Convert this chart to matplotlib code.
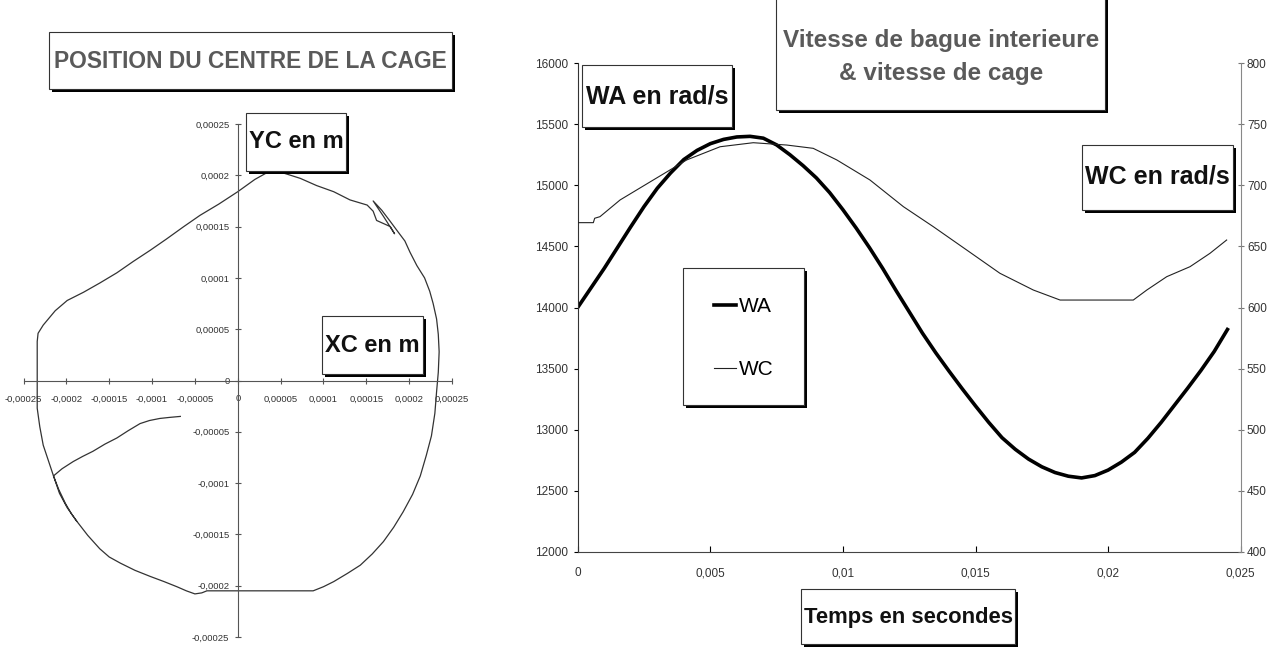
import numpy as np
import matplotlib
matplotlib.use('Agg')
import matplotlib.pyplot as plt
from matplotlib.patches import Rectangle
from matplotlib.ticker import FixedLocator, FuncFormatter

W, H = 1279, 648
NARROW = ['Liberation Sans Narrow', 'Liberation Sans', 'DejaVu Sans']
SANS = ['Liberation Sans', 'DejaVu Sans']

# cage centre trajectory, micrometres
xc_um = [-67, -80, -91, -103, -114, -128, -141, -155, -169, -181, -192, -205, -215,
         -208, -199, -188, -175, -161, -150, -137, -120, -102, -86, -71, -60, -50,
         -42, -36, 0, 88, 100, 112, 128, 143, 157, 170, 182, 193, 204, 213, 220,
         226, 230, 232, 234, 235, 234, 232, 228, 224, 218, 209, 201, 195, 186, 178,
         168, 158, 170, 183, 178, 162, 158, 151, 131, 112, 92, 73, 58, 46, 35, 20,
         0, -22, -44, -63, -83, -102, -122, -141, -161, -180, -199, -213, -227,
         -233, -234, -234, -234, -234, -234, -231, -227, -221, -215, -209, -201,
         -194, -188]
yc_um = [-35, -36, -37, -39, -42, -49, -56, -62, -69, -74, -79, -86, -93,
         -110, -124, -137, -151, -164, -172, -178, -185, -191, -196, -201, -205, -208,
         -207, -205, -205, -205, -201, -196, -188, -180, -169, -157, -143, -128, -111,
         -93, -73, -54, -32, -11, 8, 28, 45, 60, 75, 87, 100, 112, 125, 136, 146, 155,
         166, 175, 160, 143, 150, 156, 165, 171, 176, 184, 190, 197, 201, 204, 203,
         196, 184, 172, 161, 150, 138, 127, 116, 105, 95, 86, 78, 68, 54, 46, 38, 20,
         0, -20, -27, -45, -63, -78, -93, -106, -120, -130, -137]
xc = np.array(xc_um) * 1e-6
yc = np.array(yc_um) * 1e-6

# inner ring speed WA (rad/s)
t_wa = [0, 0.0005, 0.001, 0.0015, 0.002, 0.0025, 0.003, 0.0035, 0.004, 0.0045,
        0.005, 0.0055, 0.006, 0.0065, 0.007, 0.0075, 0.008, 0.0085, 0.009, 0.0095,
        0.010, 0.0105, 0.011, 0.0115, 0.012, 0.0125, 0.013, 0.0135, 0.014, 0.0145,
        0.015, 0.0155, 0.016, 0.0165, 0.017, 0.0175, 0.018, 0.0185, 0.019, 0.0195,
        0.020, 0.0205, 0.021, 0.0215, 0.022, 0.0225, 0.023, 0.0235, 0.024, 0.0245]
wa = [14000, 14160, 14320, 14490, 14660, 14825, 14975, 15100, 15210, 15285,
      15340, 15375, 15395, 15400, 15385, 15330, 15250, 15160, 15060, 14940,
      14800, 14650, 14490, 14320, 14140, 13965, 13790, 13630, 13480, 13335,
      13195, 13060, 12935, 12840, 12760, 12697, 12650, 12620, 12606, 12625,
      12670, 12735, 12815, 12930, 13060, 13200, 13340, 13485, 13640, 13820]

# cage speed WC (rad/s)
t_wc = [0, 0.00059, 0.00064, 0.00084, 0.0016, 0.00285, 0.00411, 0.00537, 0.00662,
        0.00788, 0.00888, 0.00977, 0.01102, 0.01228, 0.01341, 0.01467, 0.01592,
        0.01718, 0.01819, 0.02095, 0.02146, 0.02221, 0.02309, 0.02384, 0.02447]
wc = [669.4, 669.4, 673, 674.3, 688, 704.3, 720.7, 731.5, 734.8, 732.9, 730.2,
      720.7, 704.3, 682.5, 666.1, 647, 628, 614.3, 606.1, 606.1, 614.3, 625.2,
      633.4, 644.3, 655.2]

pos_ticks = [-0.00025, -0.0002, -0.00015, -0.0001, -0.00005, 0, 0.00005, 0.0001,
             0.00015, 0.0002, 0.00025]
t_ticks = [0, 0.005, 0.01, 0.015, 0.02, 0.025]
wa_ticks = [12000, 12500, 13000, 13500, 14000, 14500, 15000, 15500, 16000]
wc_ticks = [400, 450, 500, 550, 600, 650, 700, 750, 800]


def comma(v, pos=None):
    s = f'{v:.5f}'.rstrip('0').rstrip('.')
    if s in ('-0', ''):
        s = '0'
    return s.replace('.', ',')


def px_rect(x0, y0, x1, y1):
    return [x0 / W, 1 - y1 / H, (x1 - x0) / W, (y1 - y0) / H]


fig = plt.figure(figsize=(W / 100, H / 100), dpi=100)


def shadow_box(x0, y0, x1, y1, off=3):
    fig.add_artist(Rectangle(((x0 + off) / W, 1 - (y1 + off) / H), (x1 - x0) / W,
                             (y1 - y0) / H, transform=fig.transFigure,
                             fc='black', ec='none', zorder=5))
    fig.add_artist(Rectangle((x0 / W, 1 - y1 / H), (x1 - x0) / W, (y1 - y0) / H,
                             transform=fig.transFigure, fc='white', ec='#333',
                             lw=0.8, zorder=6))


def box_text(cx, cy, s, size, color='#111', **kw):
    fig.text(cx / W, 1 - cy / H, s, ha='center', va='center', fontsize=size,
             color=color, fontweight='bold', family=NARROW, zorder=7, **kw)


# --- left: cage centre position
ax1 = fig.add_axes(px_rect(23.5, 124, 452, 637))
ax1.set_facecolor('none')
ax1.plot(xc, yc, color='#333', lw=0.9)
ax1.set_xlim(-0.00025, 0.00025)
ax1.set_ylim(-0.00025, 0.00025)
for s in ['top', 'right']:
    ax1.spines[s].set_visible(False)
for s in ['left', 'bottom']:
    ax1.spines[s].set_position(('data', 0))
    ax1.spines[s].set_color('#555')
    ax1.spines[s].set_linewidth(0.8)
ax1.xaxis.set_major_locator(FixedLocator(pos_ticks))
ax1.yaxis.set_major_locator(FixedLocator(pos_ticks))
ax1.xaxis.set_major_formatter(FuncFormatter(comma))
ax1.yaxis.set_major_formatter(FuncFormatter(comma))
ax1.tick_params(axis='x', direction='inout', length=4, width=0.8, color='#555',
                pad=8, labelsize=6.8, labelcolor='#333')
ax1.tick_params(axis='y', direction='inout', length=4, width=0.8, color='#555',
                pad=4, labelsize=6.8, labelcolor='#333')
for lab in ax1.get_xticklabels() + ax1.get_yticklabels():
    lab.set_family(NARROW)

# --- right: inner ring and cage speeds
ax2 = fig.add_axes(px_rect(577.7, 63, 1240.7, 552))
ax2.set_facecolor('none')
l_wa, = ax2.plot(t_wa, wa, color='black', lw=2.6, label='WA')
ax2.set_xlim(0, 0.025)
ax2.set_ylim(12000, 16000)
ax2.spines['top'].set_visible(False)
ax2.spines['right'].set_visible(False)
ax2.spines['left'].set_color('#333')
ax2.spines['bottom'].set_color('#444')
ax2.xaxis.set_major_locator(FixedLocator(t_ticks))
ax2.yaxis.set_major_locator(FixedLocator(wa_ticks))
ax2.xaxis.set_major_formatter(FuncFormatter(comma))
ax2.tick_params(axis='x', direction='in', length=4, width=0.8, pad=11,
                labelsize=8.5, labelcolor='#333')
ax2.tick_params(axis='y', direction='out', length=3, width=0.8, pad=4,
                labelsize=8.5, labelcolor='#333')

ax3 = ax2.twinx()
l_wc, = ax3.plot(t_wc, wc, color='#222', lw=0.8, label='WC')
ax3.set_ylim(400, 800)
ax3.yaxis.set_major_locator(FixedLocator(wc_ticks))
for s in ['top', 'left', 'bottom']:
    ax3.spines[s].set_visible(False)
ax3.spines['right'].set_color('#888')
ax3.spines['right'].set_linewidth(0.8)
ax3.tick_params(axis='y', direction='inout', length=5, width=0.8, color='#777',
                pad=2, labelsize=8.5, labelcolor='#333')
for lab in (ax2.get_xticklabels() + ax2.get_yticklabels() + ax3.get_yticklabels()):
    lab.set_family(NARROW)

# legend inside a shadowed frame
shadow_box(683, 268, 804, 405)
leg = fig.legend([l_wa, l_wc], ['WA', 'WC'], loc='center',
                 bbox_to_anchor=(744 / W, 1 - 338 / H),
                 frameon=False, handlelength=1.05, handletextpad=0.15,
                 labelspacing=2.1, prop={'family': SANS, 'size': 15})
leg.set_zorder(8)

# titles and axis captions
shadow_box(49, 32, 452, 89)
box_text(250, 61, 'POSITION DU CENTRE DE LA CAGE', 16.4, color='#5a5a5a')
shadow_box(246, 113, 346, 171)
box_text(296, 142, 'YC en m', 17)
shadow_box(322, 316, 423, 374)
box_text(372, 345, 'XC en m', 17)

shadow_box(776, -5, 1105, 110)
box_text(941, 57, 'Vitesse de bague interieure\n& vitesse de cage', 17.5,
         color='#5a5a5a', linespacing=1.6)
shadow_box(582, 65, 732, 127)
box_text(657, 96, 'WA en rad/s', 18)
shadow_box(1082, 145, 1233, 210)
box_text(1157, 177, 'WC en rad/s', 18)
shadow_box(801, 589, 1015, 644)
box_text(908, 617, 'Temps en secondes', 15.8)

fig.savefig('out.png', dpi=100, facecolor='white')
